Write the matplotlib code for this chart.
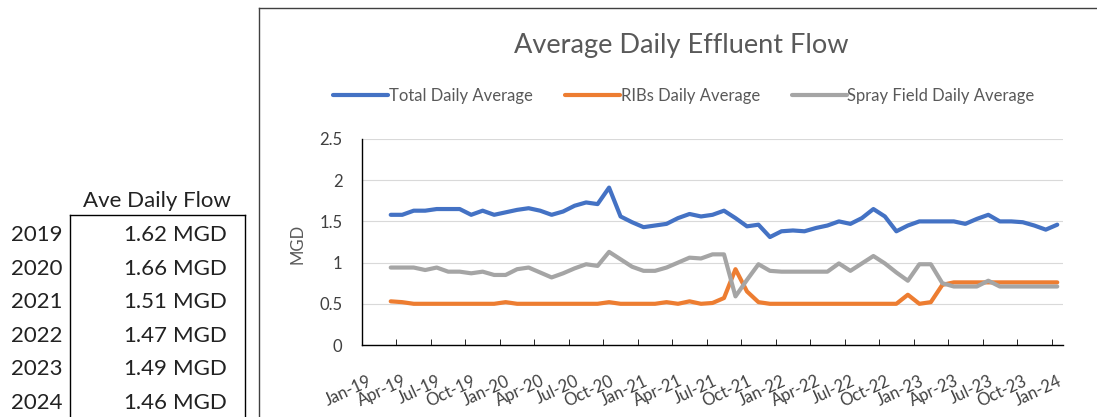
import numpy as np
import matplotlib.pyplot as plt
from matplotlib.lines import Line2D

plt.rcParams['font.family'] = ['Lato', 'DejaVu Sans']

# monthly categories Jan-19 .. Jan-24, data begins Mar-19
n_months = 61
start = 2
tick_labels = ['Jan-19', 'Apr-19', 'Jul-19', 'Oct-19', 'Jan-20', 'Apr-20', 'Jul-20',
               'Oct-20', 'Jan-21', 'Apr-21', 'Jul-21', 'Oct-21', 'Jan-22', 'Apr-22',
               'Jul-22', 'Oct-22', 'Jan-23', 'Apr-23', 'Jul-23', 'Oct-23', 'Jan-24']

total = [1.58, 1.58, 1.63, 1.63, 1.65, 1.65, 1.65, 1.58, 1.63, 1.58,
         1.61, 1.64, 1.66, 1.63, 1.58, 1.62, 1.69, 1.73, 1.71, 1.91,
         1.56, 1.49, 1.43, 1.45, 1.47, 1.54, 1.59, 1.56, 1.58, 1.63,
         1.54, 1.44, 1.46, 1.31, 1.38, 1.39, 1.38, 1.42, 1.45, 1.50,
         1.47, 1.54, 1.65, 1.56, 1.38, 1.45, 1.50, 1.50, 1.50, 1.50,
         1.47, 1.53, 1.58, 1.50, 1.50, 1.49, 1.45, 1.40, 1.46]
ribs = [0.53, 0.52, 0.50, 0.50, 0.50, 0.50, 0.50, 0.50, 0.50, 0.50,
        0.52, 0.50, 0.50, 0.50, 0.50, 0.50, 0.50, 0.50, 0.50, 0.52,
        0.50, 0.50, 0.50, 0.50, 0.52, 0.50, 0.53, 0.50, 0.51, 0.57,
        0.92, 0.65, 0.52, 0.50, 0.50, 0.50, 0.50, 0.50, 0.50, 0.50,
        0.50, 0.50, 0.50, 0.50, 0.50, 0.61, 0.50, 0.52, 0.73, 0.76,
        0.76, 0.76, 0.76, 0.76, 0.76, 0.76, 0.76, 0.76, 0.76]
spray = [0.94, 0.94, 0.94, 0.91, 0.94, 0.89, 0.89, 0.87, 0.89, 0.85,
         0.85, 0.92, 0.94, 0.88, 0.82, 0.87, 0.93, 0.98, 0.96, 1.13,
         1.04, 0.95, 0.90, 0.90, 0.94, 1.00, 1.06, 1.05, 1.10, 1.10,
         0.59, 0.79, 0.98, 0.90, 0.89, 0.89, 0.89, 0.89, 0.89, 0.99,
         0.90, 0.99, 1.08, 0.99, 0.88, 0.78, 0.98, 0.98, 0.75, 0.71,
         0.71, 0.71, 0.78, 0.71, 0.71, 0.71, 0.71, 0.71, 0.71]

years = ['2019', '2020', '2021', '2022', '2023', '2024']
ave_flow = [1.62, 1.66, 1.51, 1.47, 1.49, 1.46]

W, H = 1097, 417
fig = plt.figure(figsize=(W / 100, H / 100), dpi=100)
ax = fig.add_axes([362 / W, 1 - 345 / H, (1063 - 362) / W, (345 - 139) / H])

x = np.arange(start, start + len(total))
ax.plot(x, total, color='#4472C4', lw=3, label='Total Daily Average', solid_capstyle='round')
ax.plot(x, ribs, color='#ED7D31', lw=3, label='RIBs Daily Average', solid_capstyle='round')
ax.plot(x, spray, color='#A5A5A5', lw=3, label='Spray Field Daily Average', solid_capstyle='round')

ax.set_xlim(-0.5, n_months - 0.5)
ax.set_ylim(0, 2.5)
ax.set_yticks(np.arange(0, 2.51, 0.5))
ax.set_yticklabels(['0', '0.5', '1', '1.5', '2', '2.5'])
ax.grid(axis='y', color='#D9D9D9', lw=0.8)
ax.set_axisbelow(True)

ax.set_xticks(np.arange(0, n_months, 3))
ax.set_xticklabels(tick_labels, rotation=25, ha='right', va='top', rotation_mode='anchor')
ax.set_xticks(np.arange(2.5, n_months - 1, 3), minor=True)
ax.tick_params(axis='x', which='major', length=0, pad=20, labelsize=12, labelcolor='#404040')
ax.tick_params(axis='x', which='minor', length=4, direction='in', color='black')
ax.tick_params(axis='y', length=0, pad=14, labelsize=12, labelcolor='#404040')

for s in ['top', 'right']:
    ax.spines[s].set_visible(False)
for s in ['left', 'bottom']:
    ax.spines[s].set_color('black')
    ax.spines[s].set_linewidth(1)

fig.text(298 / W, 1 - 244 / H, 'MGD', rotation=90, ha='center', va='center',
         fontsize=12, color='#595959')
fig.text(681 / W, 1 - 45 / H, 'Average Daily Effluent Flow', ha='center', va='center',
         fontsize=19.5, color='#595959')
fig.legend(loc='center', bbox_to_anchor=(684 / W, 1 - 96 / H), ncol=3, frameon=False,
           fontsize=12, handlelength=3.3, handletextpad=0.05, columnspacing=1.9,
           labelcolor='#595959')

# chart border
fig.add_artist(Line2D([259 / W, 259 / W], [0, 1 - 8 / H], color='#404040', lw=1))
fig.add_artist(Line2D([259 / W, 1], [1 - 8 / H, 1 - 8 / H], color='#404040', lw=1))

# summary table
fig.text(157 / W, 1 - 201 / H, 'Ave Daily Flow', ha='center', va='center', fontsize=16, color='#222222')
fig.add_artist(Line2D([70 / W, 70 / W], [0, 1 - 215 / H], color='black', lw=1))
fig.add_artist(Line2D([245 / W, 245 / W], [0, 1 - 215 / H], color='black', lw=1))
fig.add_artist(Line2D([70 / W, 245 / W], [1 - 215 / H, 1 - 215 / H], color='black', lw=1))
for k, (yr, v) in enumerate(zip(years, ave_flow)):
    yy = 1 - (235 + k * 33.6) / H
    fig.text(63 / W, yy, yr, ha='right', va='center', fontsize=16, color='#222222')
    fig.text(167 / W, yy, f'{v:.2f}', ha='right', va='center', fontsize=16, color='#222222')
    fig.text(173 / W, yy, 'MGD', ha='left', va='center', fontsize=16, color='#222222')

fig.savefig('out.png', dpi=100)
